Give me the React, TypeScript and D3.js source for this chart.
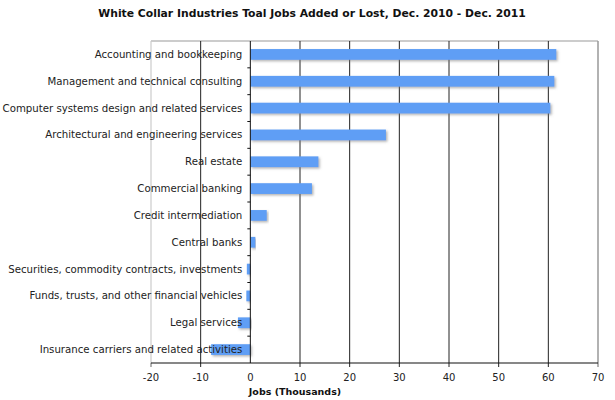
import React from "react";
import * as d3 from "d3";

const categories = [
  "Accounting and bookkeeping",
  "Management and technical consulting",
  "Computer systems design and related services",
  "Architectural and engineering services",
  "Real estate",
  "Commercial banking",
  "Credit intermediation",
  "Central banks",
  "Securities, commodity contracts, investments",
  "Funds, trusts, and other financial vehicles",
  "Legal services",
  "Insurance carriers and related activities",
];
const jobs = [61.6, 61.2, 60.4, 27.3, 13.7, 12.4, 3.3, 1.0, -0.7, -0.8, -2.5, -7.9];
const xTicks = [-20, -10, 0, 10, 20, 30, 40, 50, 60, 70];
const title = "White Collar Industries Toal Jobs Added or Lost, Dec. 2010 - Dec. 2011";
const xLabel = "Jobs (Thousands)";

export default function App() {
  const W = 615, H = 400;
  const left = 151, right = 598, top = 41, bottom = 363;
  const x = d3.scaleLinear().domain([-20, 70]).range([left, right]);
  const y = d3.scaleBand().domain(categories).range([top, bottom]).paddingInner(0.6).paddingOuter(0.3);
  const yb = d3.scaleBand().domain(categories).range([top, bottom]);
  const font = "'DejaVu Sans', Verdana, sans-serif";
  const x0 = x(0);
  return (
    <svg width={W} height={H} style={{ position: "absolute", left: 0, top: 0, background: "#fff" }} fontFamily={font}>
      <defs>
        <filter id="sh" x="-5%" y="-50%" width="115%" height="250%">
          <feDropShadow dx="1.5" dy="1.5" stdDeviation="0.8" floodColor="#777" floodOpacity="0.55" />
        </filter>
      </defs>
      <text x={312} y={17} textAnchor="middle" fontSize={10.8} fontWeight="bold" fill="#111">{title}</text>
      {/* frame */}
      <line x1={left} x2={right} y1={top} y2={top} stroke="#bbb" strokeWidth={1.5} />
      <line x1={left} x2={left} y1={top} y2={bottom} stroke="#ccc" strokeWidth={1.2} />
      <line x1={right} x2={right} y1={top} y2={bottom + 4} stroke="#999" strokeWidth={1.5} />
      {/* gridlines */}
      {xTicks.filter(t => t !== -20 && t !== 70 && t !== 0).map(t => (
        <line key={t} x1={x(t)} x2={x(t)} y1={top} y2={bottom + 4} stroke="#222" strokeWidth={1} />
      ))}
      <line x1={x(-20)} x2={x(-20)} y1={bottom} y2={bottom + 4} stroke="#666" />
      {/* bars */}
      {categories.map((c, i) => {
        const v = jobs[i];
        const x1 = Math.min(x(0), x(v));
        const w = Math.abs(x(v) - x(0));
        return (
          <rect key={c} x={x1} y={y(c)} width={w} height={y.bandwidth()} fill="#5e9ef5" filter="url(#sh)" />
        );
      })}
      {/* zero axis */}
      <line x1={x0} x2={x0} y1={top} y2={bottom} stroke="#111" strokeWidth={1} />
      {categories.slice(1).map(c => (
        <line key={c} x1={x0 - 3} x2={x0} y1={yb(c)} y2={yb(c)} stroke="#111" />
      ))}
      {/* category labels */}
      {categories.map(c => (
        <text key={c} x={x0 - 8} y={(yb(c) ?? 0) + yb.bandwidth() / 2} dy="0.35em" textAnchor="end" fontSize={10.2} fill="#222">{c}</text>
      ))}
      {/* bottom axis */}
      <line x1={left} x2={right} y1={bottom} y2={bottom} stroke="#111" strokeWidth={1.2} />
      {xTicks.map(t => (
        <text key={t} x={x(t)} y={377} dy="0.35em" textAnchor="middle" fontSize={10} fill="#222">{t}</text>
      ))}
      <text x={295} y={392} dy="0.35em" textAnchor="middle" fontSize={9.5} fontWeight="bold" fill="#111">{xLabel}</text>
    </svg>
  );
}
